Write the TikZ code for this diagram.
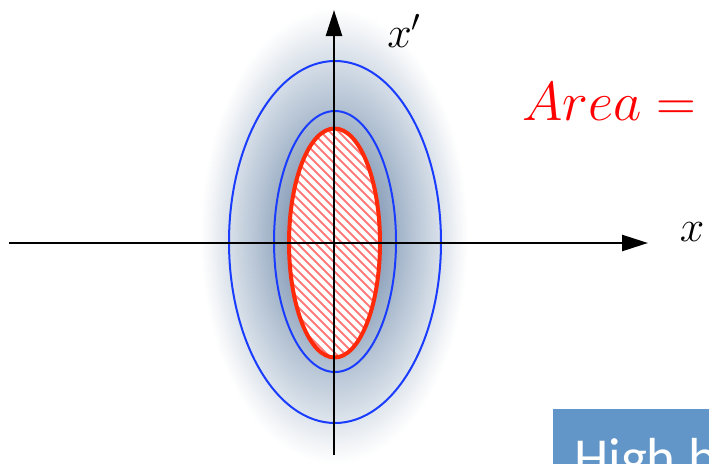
\documentclass[tikz,border=0pt]{standalone}
\usepackage{fix-cm}
\usepackage{fontspec}
\newfontfamily\carlito{Carlito}
\usetikzlibrary{arrows.meta}
\definecolor{sh0}{HTML}{728AA9}
\definecolor{sh1}{HTML}{8A9FBA}
\definecolor{sh2}{HTML}{B0BFD1}
\definecolor{sh3}{HTML}{D8E0E9}
\definecolor{sh4}{HTML}{F2F4F7}
\definecolor{ringblue}{HTML}{1A3CFF}
\definecolor{ringred}{HTML}{FF2A0A}
\definecolor{hatchred}{HTML}{FF7A7A}
\definecolor{boxblue}{HTML}{6396C8}
\pgfdeclareradialshading{glow}{\pgfpoint{0bp}{0bp}}{color(0bp)=(sh0); color(8.4bp)=(sh1); color(13.8bp)=(sh2); color(19.6bp)=(sh3); color(23bp)=(sh4); color(25bp)=(white); color(50bp)=(white)}
\tikzset{
  axisline/.style={line width=2.5pt, draw=black, -{Triangle[length=26pt,width=16pt]}},
  ringline/.style={draw=ringblue, line width=2pt},
  redring/.style={draw=ringred, line width=4pt},
  hatchline/.style={draw=hatchred, line width=1.8pt},
  biglabel/.style={inner sep=0pt, font=\fontsize{44}{50}\selectfont}
}
\begin{document}
\begin{tikzpicture}[x=1pt,y=-1pt]
\useasboundingbox (0,0) rectangle (709,463);
% glow
\shade[shading=glow] (334,236) ellipse [x radius=134pt, y radius=228pt];
% blue rings
\draw[ringline] (335,242) ellipse [x radius=106pt, y radius=181pt];
\draw[ringline] (335,241.5) ellipse [x radius=61pt, y radius=130.5pt];
% hatched red ellipse
\fill[white] (334.5,243) ellipse [x radius=45.5pt, y radius=114.5pt];
\begin{scope}
  \clip (334.5,243) ellipse [x radius=45.5pt, y radius=114.5pt];
  \foreach \c in {-90,-81,...,270} {
    \draw[hatchline] (\c+90,90) -- (\c+400,400);
  }
\end{scope}
\draw[redring] (334.5,243) ellipse [x radius=45.5pt, y radius=114.5pt];
% axes
\coordinate (xl) at (9,243);
\coordinate (xr) at (648,243);
\coordinate (yb) at (334,455);
\coordinate (yt) at (334,10);
\draw[axisline] (xl) -- (xr);
\draw[axisline] (yb) -- (yt);
\node[biglabel] (xplab) at (404,31) {$x'$};
\node[biglabel] (xlab) at (692,232) {$x$};
% area text
\node[inner sep=0pt, anchor=base west, text=red, font=\fontsize{55}{60}\selectfont] (area) at (522,120) {$Area=$};
% box
\fill[boxblue] (553,409) rectangle (720,480);
\node[inner sep=0pt, anchor=base west, text=white, font=\carlito\fontsize{55}{60}\selectfont] (high) at (574,476) {High b};
\end{tikzpicture}
\end{document}
